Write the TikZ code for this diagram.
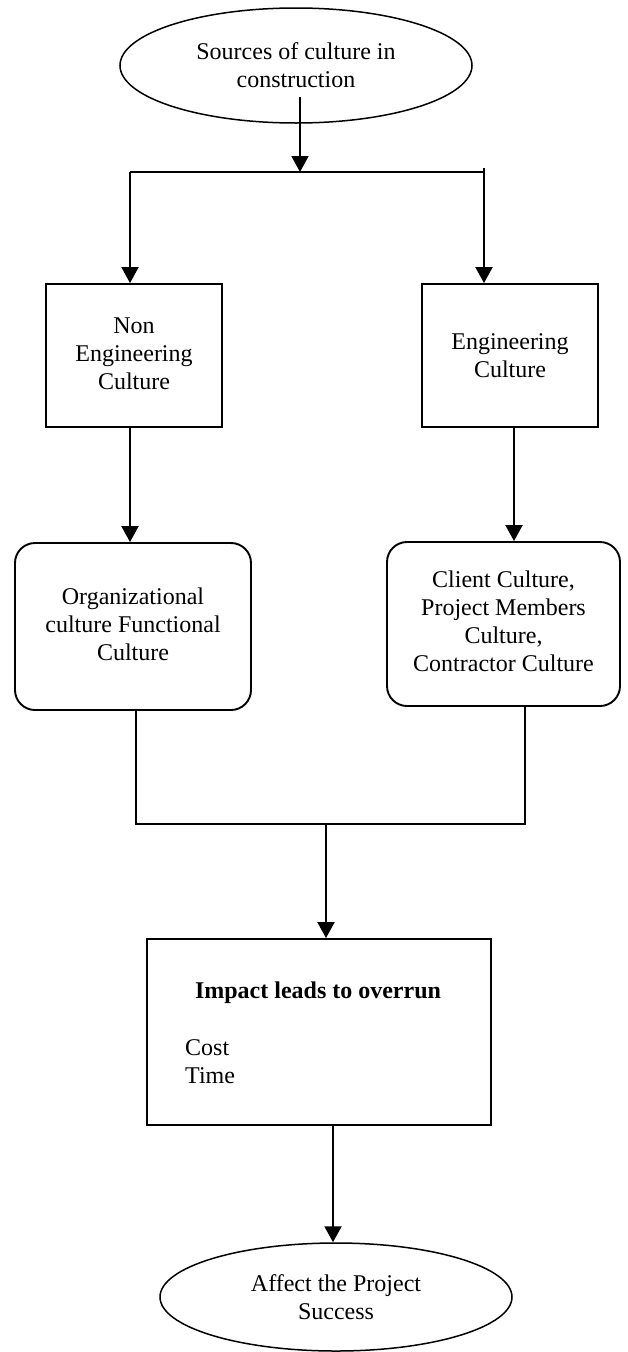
\documentclass[tikz,border=0pt]{standalone}
\usepackage{fontspec}
\setmainfont{Liberation Serif}
\usetikzlibrary{shapes.geometric,arrows.meta,calc}
\begin{document}
\begin{tikzpicture}[x=1pt,y=-1pt,
  every node/.style={font=\fontsize{24pt}{28pt}\selectfont, inner sep=0pt},
  oval/.style={draw, line width=1.5pt, ellipse, minimum width=352pt, align=center},
  sqbox/.style={draw, line width=1.9pt, rectangle, align=center},
  rbox/.style={draw, line width=1.9pt, rectangle, rounded corners=20pt, align=center},
  conn/.style={line width=2pt},
  arr/.style={conn, -{Triangle[width=17pt,length=16pt]}}
]
\useasboundingbox (0,0) rectangle (628,1352);

% top ellipse
\node[oval, minimum height=115pt] (src) at (296,65.5) {Sources of culture in\\construction};

% second row boxes
\node[sqbox, minimum width=176pt, minimum height=143pt] (ne) at (134,355.5)
  {\raisebox{-10pt}{\begin{tabular}{@{}c@{}}Non\\Engineering\\Culture\end{tabular}}};
\node[sqbox, minimum width=176pt, minimum height=143pt] (eng) at (510,355.5)
  {Engineering\\Culture};

% third row rounded boxes
\node[rbox, minimum width=236pt, minimum height=167pt] (org) at (133,626.5)
  {\raisebox{-5pt}{\begin{tabular}{@{}c@{}}Organizational\\culture Functional\\Culture\end{tabular}}};
\node[rbox, minimum width=233pt, minimum height=164pt] (cli) at (503.5,624)
  {\raisebox{4pt}{\begin{tabular}{@{}c@{}}Client Culture,\\Project Members\\Culture,\\Contractor Culture\end{tabular}}};

% impact box
\node[sqbox, minimum width=344pt, minimum height=186pt] (imp) at (319,1032) {};
\node (impt) at (318,993) {\bfseries Impact leads to overrun};
\node[anchor=west, align=left] (ct) at (185,1062) {Cost\\Time};

% bottom ellipse
\node[oval, minimum height=108pt] (aff) at (336,1297) {Affect the Project\\Success};

% connector coordinates
\coordinate (start) at ($(src.center)+(4,31.5)$);
\coordinate (hm) at (300,172);
\coordinate (hl) at (130,172);
\coordinate (hr) at (484,168);
\coordinate (bl) at (136,824);
\coordinate (br) at (525,824);
\coordinate (bm) at (326,824);

% top split
\draw[arr] (start) -- (hm);
\draw[conn] (hl) -- (hr |- hl) -- (hr);
\draw[arr] (hl) -- (hl |- ne.north);
\draw[arr] (hr) -- (hr |- eng.north);

% second to third row
\draw[arr] ([xshift=-4pt]ne.south) -- ([xshift=-4pt]ne.south |- org.north);
\draw[arr] ([xshift=4pt]eng.south) -- ([xshift=4pt]eng.south |- cli.north);

% merge
\draw[conn] (bl |- org.south) -- (bl) -- (br) -- (br |- cli.south);
\draw[arr] (bm) -- (bm |- imp.north);

% to bottom ellipse
\draw[arr] ([xshift=14pt]imp.south) -- ([xshift=14pt]imp.south |- aff.north);
\end{tikzpicture}
\end{document}
